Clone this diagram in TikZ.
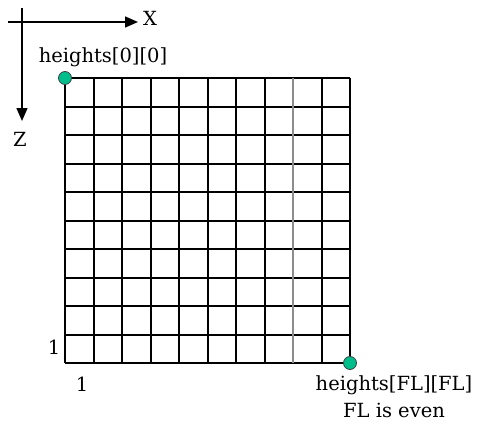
\documentclass[tikz,border=0pt]{standalone}
\usepackage{fontspec}
\setmainfont{DejaVu Serif}
\usetikzlibrary{arrows.meta}
\definecolor{dotgreen}{RGB}{0,190,140}

\begin{document}
\begin{tikzpicture}[x=1pt,y=-1pt,
    lbl/.style={font=\fontsize{19.5}{22}\selectfont,inner sep=0pt},
    gridline/.style={line width=2pt},
    dot/.style={circle,draw=black!75,fill=dotgreen,line width=0.8pt,minimum size=13pt,inner sep=0pt},
    axis/.style={line width=1.5pt,-{Triangle[length=13pt,width=11pt]}}]
  \useasboundingbox (0,0) rectangle (477,423);
  % axes
  \coordinate (hstart) at (8,22);
  \coordinate (xtip) at (138,22);
  \coordinate (vstart) at (22,8);
  \coordinate (ztip) at (22,121);
  \draw[axis] (hstart) -- (xtip);
  \draw[axis] (vstart) -- (ztip);
  \node[lbl] (xlab) at (150,18) {X};
  \node[lbl] (zlab) at (20,139) {Z};
  % the 10 x 10 grid
  \foreach \p in {78,107,135,164,192,221,249,278,306,335,363} {
    \draw[gridline] (65,\p) -- (350,\p);
  }
  \foreach \p in {65,94,122,151,179,208,236,265,322,350} {
    \draw[gridline] (\p,78) -- (\p,363);
  }
  \draw[gridline,black!45] (293,78) -- (293,363);
  % corners
  \node[dot] (first) at (65,78) {};
  \node[dot] (last) at (350,363) {};
  \node[lbl] (firstlab) at (103,57) {heights[0][0]};
  \node[lbl] (lastlab) at (394,385) {heights[FL][FL]};
  \node[lbl] (even) at (394,410) {FL is even};
  \node[lbl] (onez) at (54,347) {1};
  \node[lbl] (onex) at (82,384) {1};
\end{tikzpicture}
\end{document}
